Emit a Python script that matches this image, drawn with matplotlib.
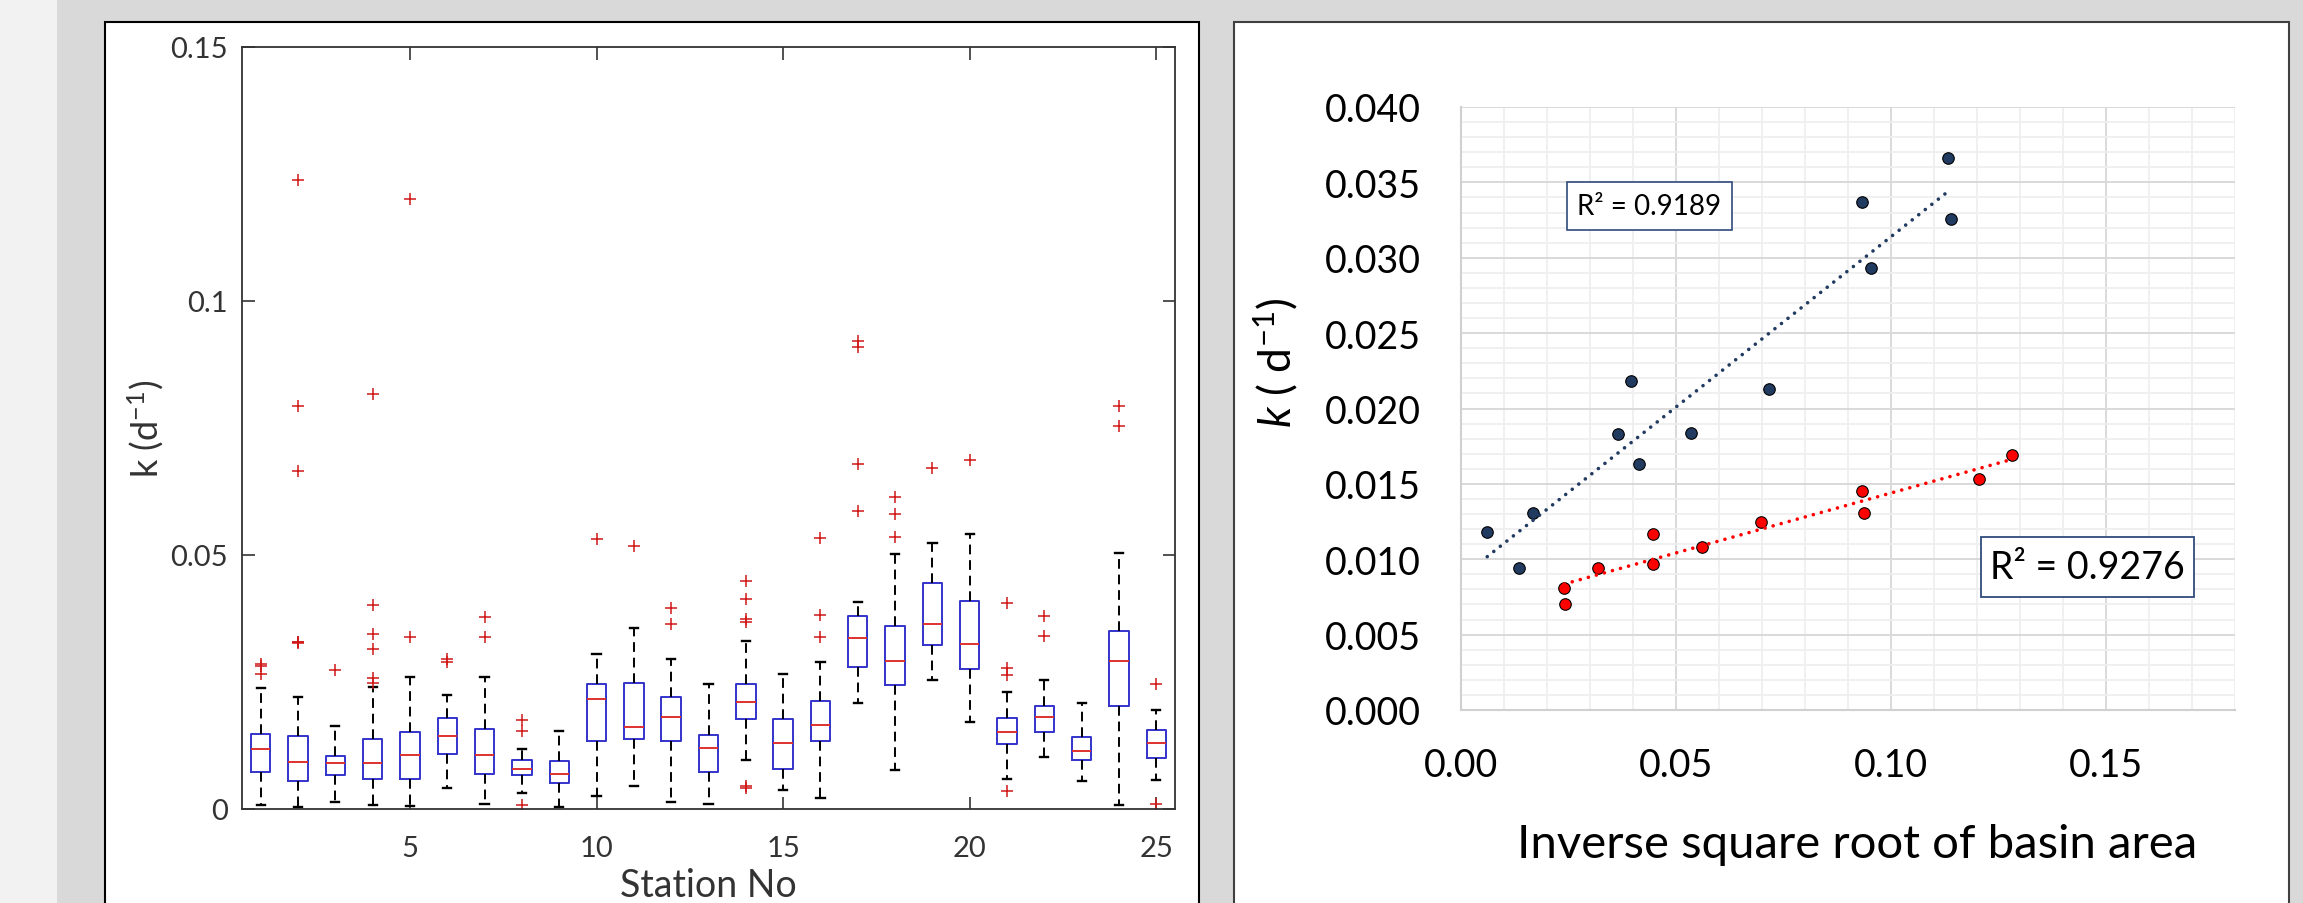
import numpy as np
import matplotlib.pyplot as plt
from matplotlib.patches import Rectangle

plt.rcParams['font.family'] = ['Lato', 'DejaVu Sans']
plt.rcParams['mathtext.fontset'] = 'custom'
plt.rcParams['mathtext.rm'] = 'Lato'
plt.rcParams['mathtext.it'] = 'Lato:italic'

# --- left panel: k per station (box plot statistics) ---
stations = np.arange(1, 26)
q1 = [0.0072, 0.0056, 0.0066, 0.0059, 0.0060, 0.0108, 0.0068, 0.0066, 0.0051, 0.0133,
      0.0138, 0.0133, 0.0072, 0.0177, 0.0079, 0.0133, 0.0280, 0.0244, 0.0322, 0.0276,
      0.0128, 0.0151, 0.0097, 0.0203, 0.0100]
med = [0.0119, 0.0092, 0.0091, 0.0091, 0.0106, 0.0143, 0.0106, 0.0079, 0.0068, 0.0216,
       0.0161, 0.0182, 0.0121, 0.0211, 0.0129, 0.0166, 0.0336, 0.0291, 0.0365, 0.0324,
       0.0151, 0.0182, 0.0115, 0.0292, 0.0129]
q3 = [0.0148, 0.0144, 0.0105, 0.0138, 0.0152, 0.0179, 0.0157, 0.0097, 0.0094, 0.0247,
      0.0249, 0.0220, 0.0146, 0.0246, 0.0177, 0.0212, 0.0379, 0.0360, 0.0444, 0.0410,
      0.0179, 0.0203, 0.0142, 0.0350, 0.0156]
whislo = [0.0008, 0.0003, 0.0013, 0.0008, 0.0005, 0.0041, 0.0010, 0.0032, 0.0003, 0.0025,
          0.0046, 0.0014, 0.0009, 0.0097, 0.0037, 0.0021, 0.0209, 0.0077, 0.0254, 0.0172,
          0.0059, 0.0102, 0.0056, 0.0008, 0.0057]
whishi = [0.0238, 0.0221, 0.0163, 0.0240, 0.0260, 0.0224, 0.0260, 0.0118, 0.0153, 0.0305,
          0.0356, 0.0295, 0.0247, 0.0331, 0.0265, 0.0289, 0.0407, 0.0502, 0.0523, 0.0541,
          0.0230, 0.0253, 0.0208, 0.0503, 0.0195]
outliers = [
    [0.0285, 0.0282, 0.0266],
    [0.0329, 0.0328, 0.0327, 0.0665, 0.0793, 0.1238],
    [0.0274],
    [0.0248, 0.0257, 0.0315, 0.0345, 0.0402, 0.0817],
    [0.0338, 0.1200],
    [0.0290, 0.0295],
    [0.0338, 0.0377],
    [0.0008, 0.0154, 0.0176],
    [],
    [0.0531],
    [0.0518],
    [0.0364, 0.0395],
    [],
    [0.0041, 0.0046, 0.0369, 0.0375, 0.0413, 0.0448],
    [],
    [0.0338, 0.0381, 0.0533],
    [0.0586, 0.0680, 0.0909, 0.0921],
    [0.0535, 0.0581, 0.0615],
    [0.0671],
    [0.0687],
    [0.0036, 0.0263, 0.0277, 0.0405],
    [0.0340, 0.0380],
    [],
    [0.0753, 0.0793],
    [0.0010, 0.0246],
]

# --- right panel: k vs inverse square root of basin area ---
x_blue = [0.0061, 0.0135, 0.0168, 0.0365, 0.0395, 0.0414, 0.0535, 0.0716, 0.0933, 0.0954, 0.1133, 0.1140]
k_blue = [0.0118, 0.0094, 0.0131, 0.0183, 0.0218, 0.0163, 0.0184, 0.0213, 0.0337, 0.0293, 0.0366, 0.0326]
x_red = [0.0240, 0.0242, 0.0319, 0.0447, 0.0447, 0.0560, 0.0698, 0.0933, 0.0937, 0.1205, 0.1281]
k_red = [0.0081, 0.0070, 0.0094, 0.0117, 0.0097, 0.0108, 0.0125, 0.0145, 0.0131, 0.0153, 0.0169]
r2_blue = "R² = 0.9189"
r2_red = "R² = 0.9276"

W, H = 2303, 904
navy = '#203a60'
red = '#ff0000'

fig = plt.figure(figsize=(W / 100, H / 100), dpi=100, facecolor='#d9d9d9')

def px_rect(x0, y0, x1, y1, **kw):
    # rectangle given in pixel coordinates measured from the top-left corner
    r = Rectangle((x0 / W, 1 - y1 / H), (x1 - x0) / W, (y1 - y0) / H,
                  transform=fig.transFigure, **kw)
    fig.add_artist(r)
    return r

px_rect(0, 0, 57, H + 5, facecolor='#f2f2f2', edgecolor='none', zorder=-2)
px_rect(105, 23, 1199, H + 10, facecolor='white', edgecolor='black', lw=1.5, zorder=-1)
px_rect(1234, 23, 2289, H + 10, facecolor='white', edgecolor='#404040', lw=1.5, zorder=-1)

# ---------------- left: box plot ----------------
ax1 = fig.add_axes([242 / W, 1 - 810 / H, (1175 - 242) / W, (810 - 48) / H])
stats = []
for i in range(len(stations)):
    stats.append(dict(med=med[i], q1=q1[i], q3=q3[i], whislo=whislo[i],
                      whishi=whishi[i], fliers=outliers[i]))
ax1.bxp(stats, positions=stations, widths=0.52, capwidths=0.22, manage_ticks=False,
        boxprops=dict(color='#3333cc', lw=1.4),
        medianprops=dict(color='#e03030', lw=1.4),
        whiskerprops=dict(color='black', lw=1.4, linestyle=(0, (5, 3))),
        capprops=dict(color='black', lw=1.7),
        flierprops=dict(marker='+', markeredgecolor='#d01818', markersize=9,
                        markeredgewidth=1.1, linestyle='none'))
ax1.set_xlim(0.5, 25.5)
ax1.set_ylim(0, 0.15)
ax1.set_xticks([5, 10, 15, 20, 25])
ax1.set_yticks([0, 0.05, 0.1, 0.15], ['0', '0.05', '0.1', '0.15'])
ax1.tick_params(direction='in', top=True, right=True, length=9, width=1.2,
                colors='#333333', labelsize=21, pad=10)
ax1.tick_params(axis='x', pad=19)
for s in ax1.spines.values():
    s.set_color('#333333')
    s.set_linewidth(1.3)
fig.text(708 / W, 1 - 897 / H, 'Station No', fontsize=27, color='#333333',
         ha='center', va='baseline')
fig.text(146 / W, 1 - 429 / H, 'k (d$^{-1}$)', fontsize=26, color='#333333',
         ha='center', va='center', rotation=90)

# ---------------- right: scatter with trend lines ----------------
ax2 = fig.add_axes([1461 / W, 1 - 711 / H, (2235 - 1461) / W, (711 - 108) / H])
ax2.set_xlim(0, 0.18)
ax2.set_ylim(0, 0.04)
xt = np.arange(0, 0.151, 0.05)
yt = np.arange(0, 0.0401, 0.005)
ax2.set_xticks(xt, [f'{v:.2f}' for v in xt])
ax2.set_yticks(yt, [f'{v:.3f}' for v in yt])
ax2.set_xticks(np.arange(0, 0.181, 0.01), minor=True)
ax2.set_yticks(np.arange(0, 0.0401, 0.001), minor=True)
ax2.grid(which='major', color='#d9d9d9', lw=1.4, zorder=0)
ax2.grid(which='minor', color='#efefef', lw=1.3, zorder=0)
ax2.set_axisbelow(True)
ax2.tick_params(which='both', length=0, labelsize=27, colors='black')
ax2.tick_params(axis='y', pad=29)
ax2.tick_params(axis='x', pad=27)
for name, s in ax2.spines.items():
    if name in ('left', 'bottom'):
        s.set_color('#d0d0d0')
        s.set_linewidth(1.5)
    else:
        s.set_visible(False)

for xs, ks, col in ((x_blue, k_blue, navy), (x_red, k_red, red)):
    xs = np.asarray(xs)
    ks = np.asarray(ks)
    ax2.plot(xs, ks, 'o', ms=8.3, mfc=col, mec='black', mew=0.8, zorder=3)
    coef = np.polyfit(xs, ks, 1)
    xl = np.array([xs.min(), xs.max()])
    ax2.plot(xl, np.polyval(coef, xl), color=col, lw=2.6,
             linestyle=(0, (0.01, 2.3)), dash_capstyle='round', zorder=4)

px_rect(1567, 183, 1732, 231, facecolor='white', edgecolor='#2f4b7c', lw=1.2, zorder=5)
fig.text(1649.5 / W, 1 - 207 / H, r2_blue, fontsize=20, ha='center', va='center', zorder=6)
px_rect(1981, 538, 2194, 598, facecolor='white', edgecolor='#2f4b7c', lw=1.3, zorder=5)
fig.text(2087.5 / W, 1 - 568 / H, r2_red, fontsize=27, ha='center', va='center', zorder=6)

fig.text(1857 / W, 1 - 858 / H, 'Inverse square root of basin area', fontsize=34,
         ha='center', va='baseline')
fig.text(1276 / W, 1 - 363 / H, '$\\mathit{k}$ ( d$^{-1}$)', fontsize=32,
         ha='center', va='center', rotation=90)

fig.savefig('out.png', dpi=100, facecolor=fig.get_facecolor())
